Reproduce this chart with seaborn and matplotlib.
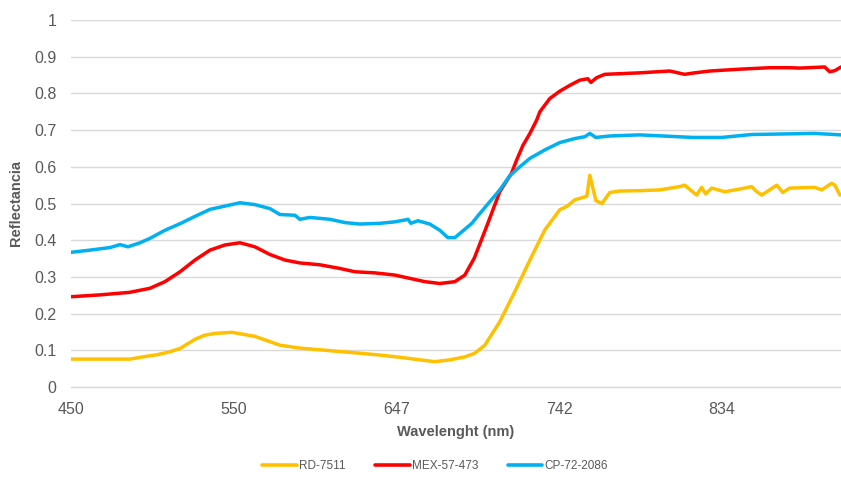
import numpy as np
import pandas as pd
import matplotlib
matplotlib.use("Agg")
import matplotlib.pyplot as plt
import seaborn as sns

# ---------------- data ----------------
series_names = ["RD-7511", "MEX-57-473", "CP-72-2086"]
series_colors = ["#FFC000", "#FF0000", "#00B0F0"]

tick_wavelengths = [450, 550, 647, 742, 834]
tick_labels = ["450", "550", "647", "742", "834"]

rd_wl = [450, 467.8, 486.2, 495.5, 503.0, 510.8, 517.0, 526.2, 532.0, 538.5,
         548.9, 562.6, 577.5, 589.4, 607.3, 625.2, 637.1, 649, 660.7, 669.4,
         678.2, 686.9, 692.7, 698.6, 707.3, 716.1, 724.9, 733.6, 742.3, 746.3,
         750.8, 756.5, 757.6, 759.3, 762.7, 766.1, 770.6, 776.2, 787.5, 798.8,
         810.1, 812.9, 819.7, 822.5, 824.8, 828.2, 835.6, 846.9, 850.8, 853.7,
         856.5, 865.0, 868.4, 872.3, 886.4, 890.4, 896.0, 897.8, 900.7]
rd_val = [0.076, 0.076, 0.076, 0.083, 0.088, 0.096, 0.105, 0.130, 0.141, 0.146,
          0.149, 0.138, 0.114, 0.106, 0.099, 0.092, 0.087, 0.081, 0.074, 0.069,
          0.074, 0.082, 0.092, 0.114, 0.178, 0.260, 0.346, 0.428, 0.483, 0.492,
          0.510, 0.518, 0.520, 0.577, 0.508, 0.500, 0.530, 0.534, 0.535, 0.537,
          0.546, 0.550, 0.523, 0.544, 0.526, 0.542, 0.532, 0.542, 0.546, 0.532,
          0.523, 0.550, 0.530, 0.542, 0.544, 0.537, 0.555, 0.550, 0.523]

mex_wl = [450, 467.8, 486.2, 498.5, 507.7, 517.0, 526.2, 535.4, 544.6, 553.7,
          562.6, 571.6, 580.5, 589.4, 601.3, 613.3, 622.2, 634.1, 646.0, 654.8,
          663.6, 672.3, 681.1, 686.9, 692.4, 699.6, 707.3, 714.1, 717.1, 720.9,
          724.9, 728.8, 730.7, 736.5, 742.3, 748.0, 753.6, 758.2, 759.9, 763.2,
          767.8, 787.5, 804.5, 812.9, 818.6, 827.1, 844.1, 861.0, 872.3, 878.0,
          892.1, 894.9, 897.8, 901.3]
mex_val = [0.246, 0.251, 0.258, 0.269, 0.287, 0.314, 0.346, 0.373, 0.387, 0.393,
           0.382, 0.361, 0.346, 0.338, 0.333, 0.323, 0.314, 0.311, 0.305, 0.296,
           0.287, 0.282, 0.287, 0.305, 0.351, 0.437, 0.532, 0.582, 0.618, 0.659,
           0.691, 0.727, 0.750, 0.786, 0.806, 0.822, 0.836, 0.840, 0.830, 0.843,
           0.852, 0.856, 0.861, 0.852, 0.856, 0.861, 0.866, 0.870, 0.870, 0.869,
           0.872, 0.859, 0.862, 0.872]

cp_wl = [450, 461.7, 474.0, 480.1, 485.0, 492.4, 498.5, 507.7, 517.0, 526.2,
         535.4, 544.6, 553.7, 562.6, 571.6, 577.5, 586.5, 589.4, 595.4, 607.3,
         616.3, 625.2, 637.1, 646.0, 651.9, 653.7, 655.4, 659.5, 666.5, 672.3,
         677.0, 681.1, 685.2, 691.0, 695.7, 701.5, 707.3, 713.2, 719.0, 724.9,
         733.6, 742.3, 750.8, 756.5, 759.3, 762.7, 770.6, 787.5, 817.5, 833.9,
         850.8, 886.4, 901.3]
cp_val = [0.367, 0.373, 0.380, 0.388, 0.382, 0.393, 0.405, 0.427, 0.445, 0.465,
          0.484, 0.493, 0.502, 0.497, 0.486, 0.470, 0.468, 0.457, 0.462, 0.457,
          0.448, 0.444, 0.446, 0.450, 0.455, 0.457, 0.446, 0.453, 0.444, 0.427,
          0.407, 0.407, 0.423, 0.446, 0.473, 0.505, 0.537, 0.576, 0.600, 0.623,
          0.646, 0.666, 0.677, 0.682, 0.691, 0.680, 0.684, 0.687, 0.680, 0.680,
          0.688, 0.691, 0.687]

# ---------------- build table ----------------
frames = []
for name, wl, val in [(series_names[0], rd_wl, rd_val),
                      (series_names[1], mex_wl, mex_val),
                      (series_names[2], cp_wl, cp_val)]:
    frames.append(pd.DataFrame({"wl": wl, "refl": val, "serie": name}))
df = pd.concat(frames, ignore_index=True)

# ---------------- style ----------------
sns.set_style("white")
plt.rcParams["font.family"] = ["Liberation Sans", "DejaVu Sans"]

fig = plt.figure(figsize=(8.41, 4.78), dpi=100)
ax = fig.add_axes([71 / 841, 1 - 387 / 478, 1 - 71 / 841, (387 - 20) / 478])

# category-like wavelength axis: tick labels equally spaced
anch_wl = np.array([300.0] + tick_wavelengths + [926.0, 1200.0])
anch_pos = np.array([-1.5, 0, 1, 2, 3, 4, 5, 8.0])


def fwd(x):
    return np.interp(x, anch_wl, anch_pos)


def inv(p):
    return np.interp(p, anch_pos, anch_wl)


ax.set_xscale("function", functions=(fwd, inv))

sns.lineplot(data=df, x="wl", y="refl", hue="serie", hue_order=series_names,
             palette=series_colors, linewidth=2.5, ax=ax, sort=True,
             estimator=None, solid_joinstyle="round", solid_capstyle="round")

ax.set_xlim(450, 901.3)
ax.set_ylim(0, 1)
ax.set_xticks(tick_wavelengths)
ax.set_xticklabels(tick_labels)
ax.xaxis.set_minor_locator(matplotlib.ticker.NullLocator())
ax.set_yticks(np.round(np.arange(0, 1.01, 0.1), 1))
ax.set_yticklabels(["0"] + [f"{v:.1f}" for v in np.arange(0.1, 0.95, 0.1)] + ["1"])

ax.yaxis.grid(True, color="#D9D9D9", linewidth=1.0)
ax.xaxis.grid(False)
for s in ["top", "right", "left"]:
    ax.spines[s].set_visible(False)
ax.spines["bottom"].set_color("#D9D9D9")
ax.spines["bottom"].set_linewidth(1.0)

ax.tick_params(axis="both", length=0, labelsize=11.5, labelcolor="#595959")
ax.tick_params(axis="y", pad=10.5)
ax.tick_params(axis="x", pad=10.5)

ax.set_xlabel("Wavelenght (nm)", fontsize=10.5, fontweight="bold",
              color="#595959", labelpad=6)
ax.set_ylabel("Reflectancia", fontsize=10.5, fontweight="bold",
              color="#595959", labelpad=8)

leg = ax.legend(loc="center", bbox_to_anchor=(435 / 841, 1 - 466 / 478),
                bbox_transform=fig.transFigure, ncol=3, frameon=False,
                prop={"family": ["Liberation Sans", "DejaVu Sans"], "size": 8.5},
                handlelength=2.95, handletextpad=0.15, columnspacing=2.5)
for t in leg.get_texts():
    t.set_color("#595959")
for h in leg.get_lines():
    h.set_linewidth(2.6)

fig.savefig("out.png", dpi=100)
